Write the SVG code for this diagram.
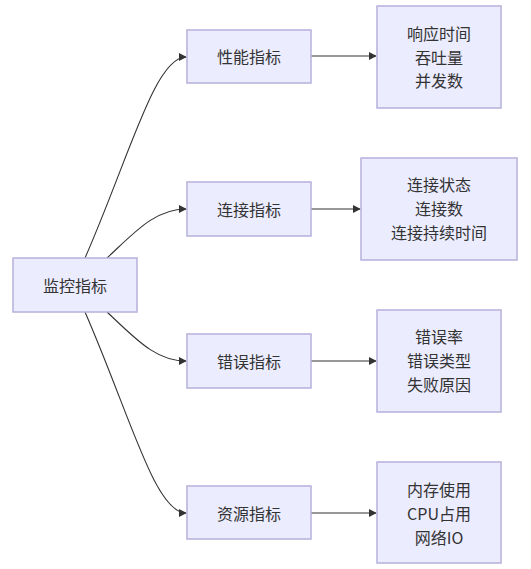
<svg xmlns="http://www.w3.org/2000/svg" width="531" height="569" viewBox="0 0 531 569">
<style>
.node rect{fill:#ECECFF;stroke:#b7b0dc;stroke-width:1.5}
.node text{font-family:"Noto Sans CJK SC","Noto Sans",sans-serif;font-size:16px;fill:#333;text-anchor:middle;dominant-baseline:central}
.edge{fill:none;stroke:#333;stroke-width:1.1}
</style>
<defs>
<marker id="arr" viewBox="0 0 10 10" refX="9" refY="5" markerWidth="8" markerHeight="8" markerUnits="userSpaceOnUse" orient="auto">
<path d="M0,0 L10,5 L0,10 z" fill="#333"/>
</marker>
</defs>
<rect width="531" height="569" fill="#fff"/>
<g id="connectors">
<path class="edge" marker-end="url(#arr)" d="M85,258 C130,155 155,57 186,57"/>
<path class="edge" marker-end="url(#arr)" d="M107,258 C135,232 155,209 186,209"/>
<path class="edge" marker-end="url(#arr)" d="M107,312 C135,338 155,361 186,361"/>
<path class="edge" marker-end="url(#arr)" d="M85,312 C130,415 155,513 186,513"/>
<path class="edge" marker-end="url(#arr)" d="M311,56 L376,56"/>
<path class="edge" marker-end="url(#arr)" d="M311,209 L360,209"/>
<path class="edge" marker-end="url(#arr)" d="M311,361 L376,361"/>
<path class="edge" marker-end="url(#arr)" d="M311,513 L376,513"/>
</g>
<g id="root" class="node"><rect x="13" y="258" width="124" height="54"/><text x="75" y="285">监控指标</text></g>
<g id="perf" class="node"><rect x="187" y="30" width="124" height="53"/><text x="249" y="56">性能指标</text></g>
<g id="conn" class="node"><rect x="187" y="182" width="124" height="54"/><text x="249" y="209">连接指标</text></g>
<g id="err" class="node"><rect x="187" y="334" width="124" height="54"/><text x="249" y="361">错误指标</text></g>
<g id="res" class="node"><rect x="187" y="486" width="124" height="53"/><text x="249" y="513">资源指标</text></g>
<g id="perfLeaf" class="node"><rect x="377" y="6" width="124" height="102"/><text x="439" y="33">响应时间</text><text x="439" y="57">吞吐量</text><text x="439" y="80">并发数</text></g>
<g id="connLeaf" class="node"><rect x="361" y="158" width="156" height="102"/><text x="439" y="184">连接状态</text><text x="439" y="208">连接数</text><text x="439" y="232">连接持续时间</text></g>
<g id="errLeaf" class="node"><rect x="377" y="310" width="124" height="102"/><text x="439" y="336">错误率</text><text x="439" y="360">错误类型</text><text x="439" y="384">失败原因</text></g>
<g id="resLeaf" class="node"><rect x="377" y="462" width="124" height="101"/><text x="439" y="489">内存使用</text><text x="439" y="513">CPU占用</text><text x="439" y="537">网络IO</text></g>
</svg>
